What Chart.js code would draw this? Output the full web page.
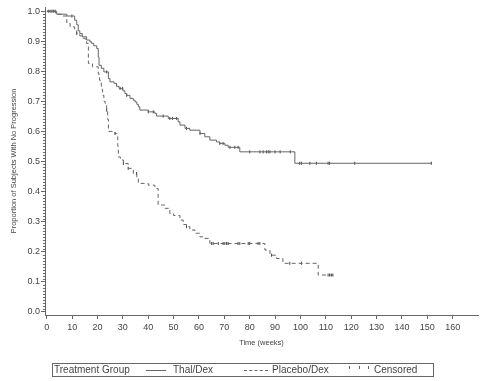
<!DOCTYPE html>
<html>
<head>
<meta charset="utf-8">
<script src="https://cdn.jsdelivr.net/npm/chart.js@4/dist/chart.umd.min.js"></script>
<style>
  html, body { margin: 0; padding: 0; background: #fff; }
  #wrap { position: relative; width: 487px; height: 381px; }
  #legend {
    position: absolute; left: 52px; top: 363px; width: 382px; height: 14px;
    border: 1px solid #666; box-sizing: border-box;
    font: 10px "Liberation Sans", Arial, sans-serif; color: #444;
  }
  #legend span { position: absolute; top: 0px; line-height: 12px; white-space: nowrap; }
  .ls { position: absolute; top: 6px; height: 0; }
  .tk { position: absolute; top: 2px; width: 0; height: 3px; border-left: 1px solid #666; }
</style>
</head>
<body>
<div id="wrap">
  <canvas id="c" width="487" height="381"></canvas>
  <div id="legend">
    <span style="left:1px">Treatment Group</span>
    <div class="ls" style="left:93px;width:20px;border-top:1px solid #666"></div>
    <span style="left:120px">Thal/Dex</span>
    <div class="ls" style="left:191px;width:24px;border-top:1px dashed #666"></div>
    <span style="left:219px">Placebo/Dex</span>
    <div class="tk" style="left:296px"></div>
    <div class="tk" style="left:306px"></div>
    <div class="tk" style="left:315px"></div>
    <span style="left:321px">Censored</span>
  </div>
</div>
<script>
// ---- data (time in weeks, proportion without progression) ----
const thalTimes = [0, 3.9, 7.9, 11, 11.8, 12.4, 13, 14, 15.7, 17, 17.7, 18.5, 19.7, 20.3, 20.6, 21.5, 22.5, 24.3, 24.9, 26.5, 27.5, 28.5, 30, 30.8, 31.5, 32.8, 34.1, 34.8, 35.5, 36.1, 36.7, 40, 42.6, 43.3, 47.9, 51.8, 52.5, 54.5, 56.4, 60.4, 62.3, 64.3, 66.9, 68.2, 70.2, 71.5, 76.1, 97.8, 151.6];
const thalSurv  = [1.0, 0.99, 0.984, 0.97, 0.955, 0.935, 0.926, 0.915, 0.904, 0.898, 0.893, 0.885, 0.876, 0.848, 0.82, 0.81, 0.798, 0.776, 0.765, 0.76, 0.75, 0.743, 0.735, 0.726, 0.72, 0.71, 0.704, 0.698, 0.69, 0.682, 0.671, 0.665, 0.66, 0.651, 0.643, 0.632, 0.621, 0.61, 0.604, 0.593, 0.582, 0.571, 0.565, 0.56, 0.554, 0.547, 0.532, 0.494, 0.494];

const placTimes = [0, 3.5, 6, 7.9, 9.2, 11, 11.8, 13, 14, 15.2, 15.7, 16.4, 18, 20.3, 20.8, 21.5, 22, 22.5, 23, 23.6, 24, 24.3, 26.9, 27.6, 28, 28.2, 29, 30.2, 32.1, 34.1, 35.5, 36.1, 40, 42.6, 43.9, 46.6, 48.5, 50, 52.5, 53.8, 55.1, 56.4, 58.4, 60.4, 62.3, 64.3, 86, 88, 90.6, 93.1, 107, 112.8];
const placSurv  = [1.0, 0.99, 0.984, 0.959, 0.948, 0.937, 0.926, 0.918, 0.91, 0.9, 0.893, 0.826, 0.815, 0.79, 0.77, 0.74, 0.72, 0.70, 0.693, 0.671, 0.64, 0.6, 0.593, 0.582, 0.55, 0.515, 0.505, 0.493, 0.477, 0.46, 0.445, 0.427, 0.421, 0.41, 0.355, 0.344, 0.327, 0.32, 0.305, 0.29, 0.283, 0.272, 0.261, 0.249, 0.244, 0.227, 0.205, 0.188, 0.177, 0.161, 0.122, 0.122];

const thalCensored = [0.6, 1.3, 2.0, 2.6, 3.3, 9.9, 23.6, 28.9, 29.9, 31.5, 40.0, 42.0, 45.9, 48.5, 49.6, 51.2, 55.1, 60.4, 68.2, 69.5, 72.2, 74.1, 75.4, 80, 84, 85.3, 86.6, 87.3, 88, 90, 92, 96, 99.7, 100.4, 103.7, 106.3, 110.9, 111.5, 121.4, 151.6];
const placCensored = [11.8, 23.6, 26.9, 30.2, 32.1, 35.4, 55.1, 65, 65.6, 67.6, 69.5, 70.2, 70.9, 71.5, 75.4, 76.1, 79.4, 80, 83.3, 84, 88.6, 95.8, 100.4, 110.9, 111.5, 112.2, 112.8];

const xTickValues = [0, 10, 20, 30, 40, 50, 60, 70, 80, 90, 100, 110, 120, 130, 140, 150, 160];
const yTickValues = [0.0, 0.1, 0.2, 0.3, 0.4, 0.5, 0.6, 0.7, 0.8, 0.9, 1.0];

// ---- helpers ----
function toPoints(ts, ss) { return ts.map((t, i) => ({ x: t, y: ss[i] })); }
function survAt(ts, ss, t) {
  let v = ss[0];
  for (let i = 0; i < ts.length; i++) { if (ts[i] <= t) v = ss[i]; }
  return v;
}
function censorPoints(cts, ts, ss) { return cts.map(t => ({ x: t, y: survAt(ts, ss, t) })); }

const LINE = '#666';
const TEXT = '#444';

const minorTicks = {
  id: 'minorTicks',
  afterDraw(chart) {
    const ys = chart.scales.y, ctx = chart.ctx;
    const x0 = ys.right;
    ctx.save();
    ctx.strokeStyle = LINE; ctx.lineWidth = 1;
    ctx.beginPath();
    for (let i = 0; i <= 100; i++) {
      if (i % 10 === 0) continue;
      const y = Math.round(ys.getPixelForValue(i / 100)) + 0.5;
      ctx.moveTo(x0 - 2, y); ctx.lineTo(x0, y);
    }
    ctx.stroke();
    ctx.restore();
  }
};

new Chart(document.getElementById('c'), {
  type: 'line',
  data: {
    datasets: [
      { label: 'Thal/Dex', data: toPoints(thalTimes, thalSurv), stepped: 'before',
        borderColor: LINE, borderWidth: 1, pointRadius: 0, fill: false },
      { label: 'Placebo/Dex', data: toPoints(placTimes, placSurv), stepped: 'before',
        borderColor: LINE, borderWidth: 1, borderDash: [4, 3], pointRadius: 0, fill: false },
      { label: 'Censored', type: 'scatter', data: censorPoints(thalCensored, thalTimes, thalSurv),
        pointStyle: 'line', rotation: 90, radius: 1.5, borderColor: '#444', borderWidth: 1, showLine: false },
      { label: 'Censored', type: 'scatter', data: censorPoints(placCensored, placTimes, placSurv),
        pointStyle: 'line', rotation: 90, radius: 1.5, borderColor: '#444', borderWidth: 1, showLine: false }
    ]
  },
  options: {
    responsive: false,
    animation: false,
    devicePixelRatio: 1,
    layout: { padding: { top: 7, right: 9, left: 0, bottom: 0 } },
    plugins: { legend: { display: false }, tooltip: { enabled: false } },
    scales: {
      x: {
        type: 'linear', min: -0.7, max: 170,
        afterBuildTicks: s => { s.ticks = xTickValues.map(v => ({ value: v })); },
        afterFit: s => { s.height = 66; },
        grid: { display: true, drawOnChartArea: false, drawTicks: true, tickLength: 4, color: LINE },
        border: { display: true, color: LINE },
        ticks: { color: TEXT, padding: 3, maxRotation: 0, autoSkip: false,
                 font: { family: 'Liberation Sans', size: 9 }, callback: v => String(v) },
        title: { display: true, text: 'Time (weeks)', color: TEXT,
                 font: { family: 'Liberation Sans', size: 7.5 }, padding: { top: 0, bottom: 33.5 } }
      },
      y: {
        type: 'linear', min: -0.011, max: 1.014,
        afterBuildTicks: s => { s.ticks = yTickValues.map(v => ({ value: v })); },
        afterFit: s => { s.width = 45; },
        grid: { display: true, drawOnChartArea: false, drawTicks: true, tickLength: 4, color: LINE },
        border: { display: true, color: LINE },
        ticks: { color: TEXT, padding: 1, autoSkip: false,
                 font: { family: 'Liberation Sans', size: 9 }, callback: v => Number(v).toFixed(1) },
        title: { display: true, text: 'Proportion of Subjects With No Progression', color: TEXT,
                 font: { family: 'Liberation Sans', size: 7.5 }, padding: { top: 9, bottom: 0 } }
      }
    }
  },
  plugins: [minorTicks]
});
</script>
</body>
</html>
